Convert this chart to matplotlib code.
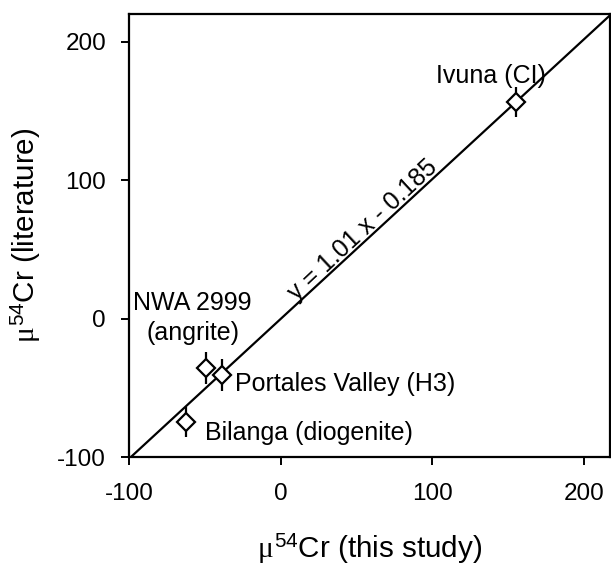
import matplotlib
matplotlib.use("Agg")
import matplotlib.pyplot as plt
import numpy as np

plt.rcParams['font.family'] = ['Liberation Sans', 'DejaVu Sans']
plt.rcParams['mathtext.fontset'] = 'custom'
plt.rcParams['mathtext.rm'] = 'Liberation Sans'
plt.rcParams['mathtext.it'] = 'Liberation Serif'
plt.rcParams['axes.unicode_minus'] = False

names = ["Ivuna (CI)", "NWA 2999\n(angrite)", "Portales Valley (H3)", "Bilanga (diogenite)"]
x_this = [155.3, -49.3, -38.8, -62.5]
y_lit = [156.5, -35.5, -40.5, -74.5]
y_err = [11, 11.5, 11.5, 11]
slope = 1.01
intercept = -0.185
xticks = [-100, 0, 100, 200]
yticks = [-100, 0, 100, 200]

fig = plt.figure(figsize=(6.11, 5.70), dpi=100)
ax = fig.add_axes([0.2111, 0.198, 0.787, 0.7774])
xmin, xmax = -100, 217
ymin, ymax = -100, 220

xl = np.array([xmin, xmax])
ax.plot(xl, slope * xl + intercept, color='black', lw=1.6, zorder=2)

ax.errorbar(x_this, y_lit, yerr=y_err, fmt='D', ms=9.5, mfc='white', mec='black',
            mew=1.6, ecolor='black', elinewidth=1.6, capsize=0, zorder=3)

fs = 18
ax.text(138.5, 175.5, names[0], fontsize=fs, ha='center', va='center')
ax.text(-58, 0.5, names[1], fontsize=fs, ha='center', va='center', linespacing=1.3)
ax.text(-30, -47.5, names[2], fontsize=fs, ha='left', va='center')
ax.text(-50, -82.5, names[3], fontsize=fs, ha='left', va='center')
ax.text(54, 64, "y = 1.01 x - 0.185", fontsize=fs, ha='center', va='center', rotation=43,
        rotation_mode='anchor')

ax.set_xlim(xmin, xmax)
ax.set_ylim(ymin, ymax)
ax.set_xticks(xticks)
ax.set_yticks(yticks)
ax.tick_params(direction='out', length=5.5, width=1.4, labelsize=17.5)
ax.tick_params(axis='x', pad=13)
ax.tick_params(axis='y', pad=11)
for s in ax.spines.values():
    s.set_linewidth(1.6)

ax.set_xlabel(r"$\mu^{54}$Cr (this study)", fontsize=21.3, labelpad=20)
ax.set_ylabel(r"$\mu^{54}$Cr (literature)", fontsize=21.3, labelpad=10)

fig.savefig("out.png", dpi=100)
